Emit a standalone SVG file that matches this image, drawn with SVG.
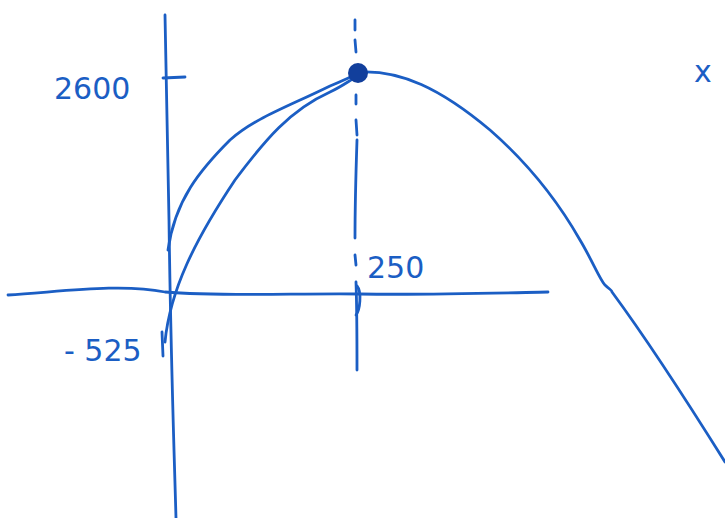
<svg xmlns="http://www.w3.org/2000/svg" width="725" height="518" viewBox="0 0 725 518">
<style>
.ink{fill:none;stroke:#1b5ec4;stroke-width:2.8;stroke-linecap:round;stroke-linejoin:round}
.lbl{font-family:"DejaVu Sans",sans-serif;font-size:30px;fill:#1b5ec4}
</style>
<rect width="725" height="518" fill="#ffffff"/>
<g id="connectors">
<path class="ink" d="M165,15 C166,80 168,150 169,220 C170,300 172,380 174,450 L176,518"/>
<path class="ink" d="M8,295 C60,292 120,283 165,292 C220,297 300,293 360,294 C430,295 500,293 548,292"/>
<path class="ink" d="M163,78 L185,77"/>
<path class="ink" d="M355,20 L355,30 M355,40 L356,52 M356,95 L356,104 M356,120 L357,135 M357,140 C356,170 355,200 355,238 M355,255 L356,265 M356,282 C357,310 357,340 357,370"/>
<path class="ink" d="M357,286 C362,292 360,310 356,315"/>
<path class="ink" d="M162,332 L163,356"/>
<path class="ink" d="M360,72 C400,70 440,88 490,130 C530,165 560,205 580,240 C592,260 600,280 605,285 C610,290 612,290 612,292 C640,330 680,390 725,462"/>
<path class="ink" d="M168,250 C175,200 200,170 230,140 C255,118 285,108 330,86 C345,80 352,76 358,74"/>
<path class="ink" d="M165,342 C170,290 195,240 235,180 C265,140 290,110 330,92 C343,86 350,80 358,76"/>
</g>
<g id="vertex"><circle cx="358" cy="73" r="10" fill="#123f9c"/></g>
<g id="labels">
<text class="lbl" x="54" y="99">2600</text>
<text class="lbl" x="64" y="361">- 525</text>
<text class="lbl" x="367" y="278">250</text>
<text class="lbl" x="694" y="82">x</text>
</g>
</svg>
